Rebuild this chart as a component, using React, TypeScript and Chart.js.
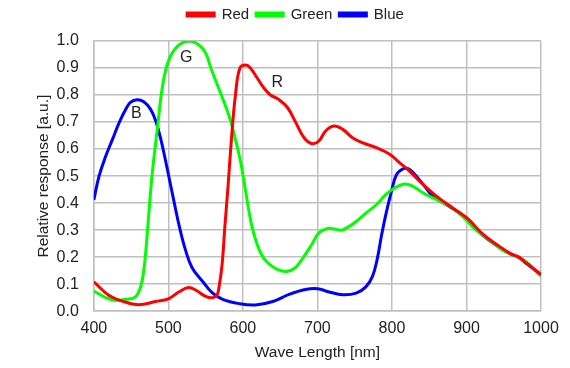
import React, { useEffect, useRef } from "react";
import { Chart, registerables } from "chart.js";

Chart.register(...registerables);

const redX = [400, 420, 438, 460, 483, 500, 514, 527, 537, 550, 559, 565, 568, 572, 576, 580, 585, 590, 596, 604, 610, 619, 628, 637, 648, 660, 671, 682, 693, 702, 711, 722, 734, 747, 761, 779, 797, 810, 821, 837, 860, 882, 901, 922, 940, 958, 970, 981, 1000];
const redY = [0.109, 0.059, 0.0375, 0.024, 0.036, 0.046, 0.071, 0.0875, 0.0775, 0.055, 0.05, 0.058, 0.09, 0.17, 0.32, 0.46, 0.65, 0.8, 0.9, 0.911, 0.9, 0.864, 0.827, 0.8, 0.784, 0.753, 0.698, 0.642, 0.62, 0.63, 0.667, 0.685, 0.673, 0.642, 0.623, 0.605, 0.581, 0.55, 0.525, 0.481, 0.425, 0.381, 0.344, 0.285, 0.248, 0.215, 0.2, 0.177, 0.135];

const greenX = [400, 416, 429, 443, 454, 460, 465, 469, 472, 478, 485, 492, 500, 512, 528, 541, 550, 557, 564, 571, 578, 584, 590, 596, 601, 606, 612, 620, 627, 635, 646, 658, 670, 680, 692, 702, 714, 723, 732, 741, 752, 765, 779, 792, 804, 817, 828, 842, 860, 878, 895, 913, 931, 949, 967, 981, 1000];
const greenY = [0.075, 0.05, 0.04, 0.044, 0.05, 0.07, 0.115, 0.2, 0.3, 0.5, 0.67, 0.83, 0.925, 0.98, 1.0, 0.985, 0.955, 0.9, 0.85, 0.8, 0.75, 0.7, 0.635, 0.565, 0.49, 0.405, 0.315, 0.24, 0.2, 0.175, 0.155, 0.147, 0.16, 0.195, 0.245, 0.29, 0.306, 0.304, 0.3, 0.311, 0.332, 0.363, 0.394, 0.432, 0.457, 0.471, 0.4625, 0.4375, 0.4125, 0.3875, 0.35, 0.3, 0.2625, 0.225, 0.2025, 0.181, 0.13];

const blueX = [400, 407, 416, 425, 434, 443, 449, 458, 467, 476, 483, 490, 496, 502, 508, 515, 523, 532, 546, 559, 573, 595, 617, 640, 662, 684, 700, 716, 734, 752, 765, 774, 780, 786, 792, 799, 806, 815, 821, 828, 842, 855, 873, 891, 904, 922, 940, 958, 970, 981, 1000];
const blueY = [0.412, 0.5, 0.574, 0.636, 0.698, 0.748, 0.773, 0.783, 0.775, 0.748, 0.705, 0.635, 0.56, 0.48, 0.4, 0.31, 0.226, 0.16, 0.11, 0.068, 0.044, 0.028, 0.023, 0.036, 0.062, 0.08, 0.083, 0.071, 0.061, 0.067, 0.09, 0.13, 0.19, 0.28, 0.36, 0.44, 0.505, 0.527, 0.528, 0.514, 0.469, 0.425, 0.394, 0.3625, 0.331, 0.281, 0.244, 0.2125, 0.2, 0.175, 0.135];

const seriesNames = ["Red", "Green", "Blue"];
const seriesColors = ["#ff0000", "#00ff00", "#0000ff"];

const annoText = ["B", "G", "R"];
const annoX = [457, 524, 646];
const annoY = [0.73, 0.94, 0.847];

const xTitle = "Wave Length [nm]";
const yTitle = "Relative response [a.u.]";

const FONT = "'Liberation Sans', Arial, sans-serif";
const FS = 16;
const TS = 15.5;

export default function App() {
  const ref = useRef<HTMLCanvasElement | null>(null);
  useEffect(() => {
    document.body.style.margin = "0";
    const toPts = (xs: number[], ys: number[]) => xs.map((x, i) => ({ x, y: ys[i] }));
    const annoPlugin = {
      id: "anno",
      afterDatasetsDraw(chart: any) {
        const ctx = chart.ctx;
        const xs = chart.scales.x;
        const ys = chart.scales.y;
        ctx.save();
        ctx.fillStyle = "#222";
        ctx.font = `${FS}px ${FONT}`;
        ctx.textAlign = "center";
        ctx.textBaseline = "middle";
        annoText.forEach((t, i) => {
          ctx.fillText(t, xs.getPixelForValue(annoX[i]), ys.getPixelForValue(annoY[i]));
        });
        ctx.restore();
      },
    };
    const legendSpace = {
      id: "legendSpace",
      beforeInit(chart: any) {
        const lg = chart.legend;
        const origFit = lg.fit;
        lg.fit = function () {
          origFit.bind(lg)();
          this.height += 9;
        };
        const origDraw = lg.draw;
        lg.draw = function () {
          const ctx = chart.ctx;
          ctx.save();
          ctx.translate(10, 0);
          origDraw.bind(lg)();
          ctx.restore();
        };
      },
    };
    const chart = new Chart(ref.current!, {
      type: "line",
      data: {
        datasets: [
          { label: seriesNames[0], data: toPts(redX, redY) },
          { label: seriesNames[1], data: toPts(greenX, greenY) },
          { label: seriesNames[2], data: toPts(blueX, blueY) },
        ].map((d, i) => ({
          ...d,
          borderColor: seriesColors[i],
          backgroundColor: seriesColors[i],
          borderWidth: 3,
          pointRadius: 0,
          tension: 0.4,
          fill: false,
        })),
      },
      options: {
        animation: false,
        responsive: false,
        layout: { padding: { left: 30, right: 29, top: 0, bottom: 0 } },
        plugins: {
          legend: {
            position: "top",
            labels: {
              boxWidth: 27,
              boxHeight: 3,
              padding: 7,
              color: "#222",
              font: { family: FONT, size: 15 },
            },
          },
          tooltip: { enabled: false },
        },
        scales: {
          x: {
            type: "linear",
            min: 400,
            max: 1000,
            ticks: {
              stepSize: 100,
              color: "#222",
              padding: 8,
              font: { family: FONT, size: FS },
              callback: (v: any) => String(v),
            },
            grid: { color: "#bfbfbf", lineWidth: 1.5, drawTicks: false },
            border: { color: "#bfbfbf", width: 1.5 },
            title: { display: true, text: xTitle, color: "#222", font: { family: FONT, size: TS }, padding: { top: -3, bottom: 6 } },
          },
          y: {
            min: 0,
            max: 1,
            ticks: {
              stepSize: 0.1,
              color: "#222",
              font: { family: FONT, size: FS },
              padding: 15,
              callback: (v: any) => Number(v).toFixed(1),
            },
            grid: { color: "#bfbfbf", lineWidth: 1.5, drawTicks: false },
            border: { color: "#bfbfbf", width: 1.5 },
            title: { display: true, text: yTitle, color: "#222", font: { family: FONT, size: TS }, padding: { top: 4, bottom: -11 } },
          },
        },
      },
      plugins: [annoPlugin, legendSpace],
    });
    return () => chart.destroy();
  }, []);
  return (
    <div style={{ width: 570, height: 368 }}>
      <canvas ref={ref} width={570} height={368} />
    </div>
  );
}
